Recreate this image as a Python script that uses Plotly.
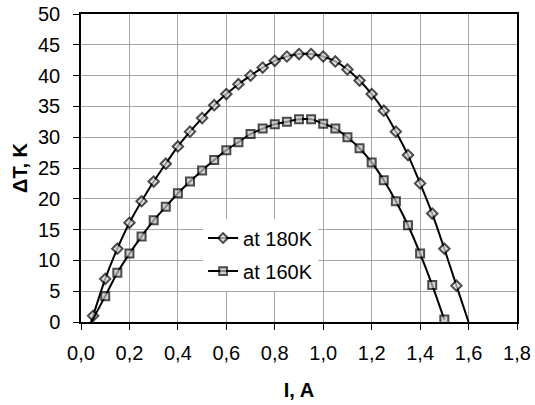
import plotly.graph_objects as go

# current I (A) and temperature difference dT (K) for the two curves
i_180 = [0.0, 0.05, 0.10, 0.15, 0.20, 0.25, 0.30, 0.35, 0.40, 0.45, 0.50,
         0.55, 0.60, 0.65, 0.70, 0.75, 0.80, 0.85, 0.90, 0.95, 1.00,
         1.05, 1.10, 1.15, 1.20, 1.25, 1.30, 1.35, 1.40, 1.45, 1.50, 1.55, 1.60]
dt_180 = [-5.0, 1.0, 7.0, 11.9, 16.1, 19.6, 22.8, 25.7, 28.5, 30.9, 33.1,
          35.2, 37.0, 38.6, 40.0, 41.3, 42.4, 43.1, 43.5, 43.5, 43.1,
          42.3, 41.0, 39.2, 37.0, 34.3, 30.9, 27.1, 22.5, 17.6, 11.9, 5.9, 0.0]

i_160 = [0.0, 0.10, 0.15, 0.20, 0.25, 0.30, 0.35, 0.40, 0.45, 0.50,
         0.55, 0.60, 0.65, 0.70, 0.75, 0.80, 0.85, 0.90, 0.95, 1.00,
         1.05, 1.10, 1.15, 1.20, 1.25, 1.30, 1.35, 1.40, 1.45, 1.50]
dt_160 = [-3.2, 4.2, 8.0, 11.1, 13.9, 16.5, 18.7, 20.9, 22.8, 24.6,
          26.3, 27.9, 29.2, 30.5, 31.4, 32.1, 32.5, 32.9, 32.9, 32.2,
          31.4, 30.0, 28.2, 25.9, 23.0, 19.6, 15.7, 11.1, 6.0, 0.4]

x_ticks = [0.0, 0.2, 0.4, 0.6, 0.8, 1.0, 1.2, 1.4, 1.6, 1.8]
x_labels = ['0,0', '0,2', '0,4', '0,6', '0,8', '1,0', '1,2', '1,4', '1,6', '1,8']

# points outside the axis range (line ends) carry no marker
size_180 = [0] + [8] * (len(i_180) - 2) + [0]
size_160 = [0] + [8] * (len(i_160) - 1)

FONT = 'Liberation Sans, Arial, sans-serif'

fig = go.Figure()
fig.add_trace(go.Scatter(
    x=i_180, y=dt_180, name='at 180K', mode='lines+markers', legendgroup='a',
    line=dict(color='black', width=2, shape='spline', smoothing=0.8),
    marker=dict(symbol='diamond', size=size_180, color='#d8d8d8',
                line=dict(color='black', width=2))))
fig.add_trace(go.Scatter(
    x=i_160, y=dt_160, name='at 160K', mode='lines+markers', legendgroup='b',
    line=dict(color='black', width=2, shape='spline', smoothing=0.8),
    marker=dict(symbol='square', size=size_160, color='#c0c0c0',
                line=dict(color='black', width=2))))

axis_style = dict(showgrid=True, gridcolor='#a6a6a6', gridwidth=1,
                  showline=True, linecolor='black', linewidth=1.5, mirror=True,
                  ticks='outside', ticklen=6, tickcolor='black', zeroline=False,
                  automargin=False, ticklabeloverflow='allow',
                  tickfont=dict(family=FONT, size=20, color='black'))

fig.update_xaxes(range=[0, 1.8], tickvals=x_ticks, ticktext=x_labels,
                 ticklabelstandoff=6,
                 title=dict(text='<b>I, A</b>', font=dict(family=FONT, size=20, color='black'),
                            standoff=20),
                 **axis_style)
fig.update_yaxes(range=[0, 50], dtick=5, ticklabelstandoff=9,
                 title=dict(text='<b>ΔT, K</b>', font=dict(family=FONT, size=20, color='black'),
                            standoff=5),
                 **axis_style)

fig.update_layout(
    width=535, height=405,
    margin=dict(l=81, r=18, t=14, b=83),
    paper_bgcolor='white', plot_bgcolor='white',
    font=dict(family=FONT, size=20, color='black'),
    showlegend=True,
    legend=dict(x=0.28, y=0.336, xanchor='left', yanchor='top',
                bgcolor='white', borderwidth=0, traceorder='grouped',
                tracegroupgap=4, font=dict(family=FONT, size=20, color='black')),
)

# drop the browser's default 8px body margin so the figure fills the window
fig.write_html("out.html", config={'displayModeBar': False},
               post_script="document.body.style.margin = '0';")
